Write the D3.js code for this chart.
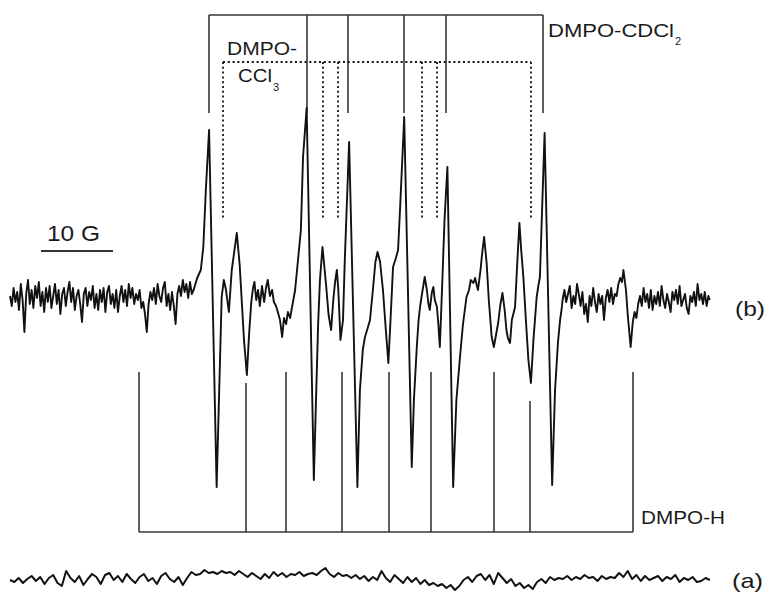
<!DOCTYPE html>
<html>
<head>
<meta charset="utf-8">
<script src="https://cdn.jsdelivr.net/npm/d3@7"></script>
<style>
  html, body { margin: 0; padding: 0; background: #fff; }
  svg { display: block; }
  text { font-family: "Liberation Sans", Arial, sans-serif; fill: #1a1a1a; }
</style>
</head>
<body>
<svg id="chart" width="767" height="595"></svg>
<script>
// EPR spectrum (b) with stick diagrams, and blank spectrum (a).
// Field in G (relative sweep), intensity in arbitrary units.

// Spectrum (b): [field G, intensity]
const spectrumB = [
  [0.00,2],[0.25,-8],[0.50,10],[0.75,-4],[1.00,6],[1.25,-12],[1.50,14],[1.75,-2],[2.00,-34],[2.25,4],
  [2.50,18],[2.75,-6],[3.00,8],[3.25,-10],[3.50,12],[3.75,0],[4.00,16],[4.25,-8],[4.50,6],[4.75,-14],
  [5.00,10],[5.25,-4],[5.50,12],[5.75,-10],[6.00,2],[6.25,14],[6.50,-6],[6.75,8],[7.00,-16],[7.25,4],
  [7.50,10],[7.75,-8],[8.00,6],[8.25,16],[8.50,-4],[8.75,10],[9.00,-12],[9.25,2],[9.50,8],[9.75,-6],
  [10.00,-24],[10.25,4],[10.50,10],[10.75,-8],[11.00,6],[11.25,-2],[11.50,12],[11.75,-10],[12.00,4],[12.25,-12],
  [12.50,8],[12.75,-4],[13.00,10],[13.25,-14],[13.50,6],[13.75,12],[14.00,-6],[14.25,4],[14.50,-10],[14.75,8],
  [15.00,-14],[15.25,2],[15.50,12],[15.75,-4],[16.00,8],[16.25,-8],[16.50,14],[16.75,0],[17.00,10],[17.25,-6],
  [17.50,4],[17.75,-2],[18.00,8],[18.25,-10],[18.50,-4],[18.75,-16],[19.00,-34],[19.25,-6],[19.50,6],[19.75,-2],
  [20.00,10],[20.25,-6],[20.50,14],[20.75,2],[21.00,-4],[21.25,10],[21.50,16],[21.75,-8],[22.00,4],[22.25,-12],
  [22.50,6],[22.75,-8],[23.00,-26],[23.25,4],[23.50,12],[23.75,2],[24.00,18],[24.25,6],[24.50,14],[24.75,0],
  [25.00,16],[25.25,4],[25.50,8],[25.75,14],[26.00,20],
  [26.5,28],[26.85,51],[27.2,108],[27.65,168],[28.7,-189],[29.4,1],[29.7,18],
  [30.0,8],[30.4,-14],[30.8,28],[31.5,65],[31.9,33],[32.5,-42],[32.9,-77],[33.2,-37],[33.5,-5],[33.75,10],
  [33.95,16],[34.2,-2],[34.45,8],[34.7,-8],[35.0,12],[35.3,-4],[35.55,10],[35.8,18],[36.1,2],[36.4,8],
  [36.65,-4],[36.95,-8],[37.2,-14],[37.5,-22],[37.8,-39],[38.05,-20],[38.35,-26],[38.6,-14],[38.9,-20],[39.2,-8],
  [39.6,8],[40.0,38],[40.4,68],[40.7,141],[41.2,190],[42.2,-182],[42.5,-102],[42.8,-25],[43.05,18],[43.4,51],
  [43.6,36],[43.9,13],[44.25,-17],[44.6,-32],[44.9,-2],[45.15,16],[45.4,28],[45.6,8],[45.9,-42],[46.25,-22],
  [46.5,38],[47.1,156],[48.25,-189],[48.6,-92],[49.0,-52],[49.3,-39],[49.6,-32],[50.0,-22],[50.4,8],[50.75,36],
  [51.05,46],[51.4,36],[51.8,8],[52.2,-32],[52.55,-65],[52.85,-22],[53.2,31],[53.6,40],[53.9,48],[54.2,93],
  [54.75,181],[55.8,-169],[56.1,-102],[56.5,-49],[56.75,-22],[56.95,-9],[57.2,3],[57.6,21],[57.9,8],[58.1,-5],
  [58.3,-12],[58.6,6],[58.8,11],[59.0,-2],[59.3,-9],[59.5,-27],[59.7,-49],[60.0,8],[60.35,78],[60.75,131],
  [61.55,-189],[62.0,-102],[62.5,-59],[62.9,-27],[63.4,1],[63.75,8],[64.0,18],[64.35,15],[64.6,20],[64.85,12],
  [65.0,8],[65.35,28],[65.55,43],[65.85,61],[66.2,35],[66.5,-2],[66.9,-39],[67.2,-49],[67.5,-37],[67.8,-25],
  [68.1,-7],[68.4,5],[68.7,-12],[68.95,-32],[69.15,-40],[69.45,-45],[69.7,-22],[70.15,-9],[70.4,28],[70.75,75],
  [71.0,48],[71.3,21],[71.65,-22],[72.0,-62],[72.35,-85],[72.7,-42],[73.15,1],[73.4,13],[73.6,21],[73.9,88],
  [74.25,165],[75.3,-187],[75.7,-92],[76.1,-45],[76.4,-22],[76.6,-12],
  [76.75,-2],[77.00,8],[77.25,-4],[77.50,4],[77.75,12],[78.00,-10],[78.25,2],[78.50,-6],[78.75,14],[79.00,4],
  [79.25,-8],[79.50,6],[79.75,-16],[80.00,-6],[80.25,-24],[80.50,2],[80.75,-8],[81.00,10],[81.25,-4],[81.50,-14],
  [81.75,4],[82.00,-6],[82.25,2],[82.50,-22],[82.75,0],[83.00,8],[83.25,-4],[83.50,10],[83.75,-6],[84.00,4],
  [84.25,2],[84.50,14],[84.75,20],[85.00,16],[85.20,28],[85.55,8],[85.8,-17],[86.2,-49],[86.5,-24],[86.75,-14],
  [87.00,-20],[87.25,-6],[87.50,2],[87.75,-8],[88.00,10],[88.25,-4],[88.50,4],[88.75,-10],[89.00,8],[89.25,-12],
  [89.50,2],[89.75,-6],[90.00,6],[90.25,-8],[90.50,12],[90.75,-2],[91.00,-10],[91.25,4],[91.50,-4],[91.75,-14],
  [92.00,6],[92.25,-2],[92.50,8],[92.75,-6],[93.00,12],[93.25,-8],[93.50,-2],[93.75,4],[94.00,-10],[94.25,-16],
  [94.50,2],[94.75,-4],[95.00,6],[95.25,-8],[95.50,14],[95.75,-2],[96.00,4],[96.25,-6],[96.50,6],[96.75,-8],
  [97.00,2],[97.20,-2]
];

// Spectrum (a): intensities on an evenly spaced field sweep
const sweepAStart = 0;     // G
const sweepAStep = 0.6;    // G per point
const spectrumA = [
  0,-2,2,-3,1,4,-1,3,-4,2,
  5,-3,-6,9,2,-2,4,-5,1,6,
  3,-4,5,7,0,4,-2,6,1,-3,
  3,6,-1,2,-4,4,7,1,-2,3,
  -5,2,8,5,6,10,7,8,6,9,
  7,8,5,9,6,3,7,4,1,6,
  2,8,4,7,3,6,5,8,4,6,
  7,5,9,12,6,3,7,4,5,2,
  5,1,4,-1,3,0,9,2,-2,5,
  1,-3,3,-2,2,-4,0,-5,-3,-6,
  -4,-8,-5,-10,-6,0,3,-2,4,6,
  0,5,-4,7,2,-3,1,-6,-3,-8,
  -5,-9,-2,1,-3,3,0,2,1,4,
  0,3,1,5,2,3,-1,4,1,3,
  2,7,3,9,1,5,-1,4,0,2,
  4,-1,3,1,5,-2,2,0,3,-2,
  -1,2,0
];

// Stick diagrams: line positions (G)
const linesCDCl2 = [27.64, 41.25, 46.94, 54.72, 60.56, 74.03];
const linesCCl3  = [29.58, 43.47, 45.56, 57.22, 59.31, 72.36];
const linesH     = [17.92, 32.78, 38.33, 46.11, 52.64, 58.47, 67.22, 72.22, 86.53];
// upper end of each DMPO-H stick (intensity units)
const linesHTop  = [-74, -85, -74, -74, -74, -74, -74, -103, -74];

// Scale bar
const scaleBarStart = 4.3;   // G
const scaleBarLength = 10;   // G

const svg = d3.select("#chart");
svg.append("rect").attr("width", 767).attr("height", 595).attr("fill", "#fff");

const x = d3.scaleLinear().domain([0, 100]).range([10, 730]);
const y = d3.scaleLinear().domain([-297, 298]).range([595, 0]);

// stick-diagram levels (intensity units)
const cdTop = 283, cdTip = 185;
const ccTop = 236, ccTip = 80;
const hBase = -234;
const offsetA = -282;

const stickColor = "#363636";

// DMPO-CDCl2 (solid)
const gCD = svg.append("g").attr("stroke", stickColor).attr("stroke-width", 1.6).attr("fill", "none");
gCD.append("line")
  .attr("x1", x(d3.min(linesCDCl2))).attr("x2", x(d3.max(linesCDCl2)))
  .attr("y1", y(cdTop)).attr("y2", y(cdTop));
gCD.selectAll("line.s").data(linesCDCl2).join("line").attr("class", "s")
  .attr("x1", d => x(d)).attr("x2", d => x(d))
  .attr("y1", y(cdTop)).attr("y2", y(cdTip));

// DMPO-CCl3 (dotted)
const gCC = svg.append("g").attr("stroke", "#111").attr("stroke-width", 1.8)
  .attr("stroke-dasharray", "2,2.8").attr("fill", "none");
gCC.append("line")
  .attr("x1", x(d3.min(linesCCl3))).attr("x2", x(d3.max(linesCCl3)))
  .attr("y1", y(ccTop)).attr("y2", y(ccTop));
gCC.selectAll("line.s").data(linesCCl3).join("line").attr("class", "s")
  .attr("x1", d => x(d)).attr("x2", d => x(d))
  .attr("y1", y(ccTop)).attr("y2", y(ccTip));

// DMPO-H (solid, below)
const gH = svg.append("g").attr("stroke", stickColor).attr("stroke-width", 1.6).attr("fill", "none");
gH.append("line")
  .attr("x1", x(d3.min(linesH))).attr("x2", x(d3.max(linesH)))
  .attr("y1", y(hBase)).attr("y2", y(hBase));
gH.selectAll("line.s").data(linesH).join("line").attr("class", "s")
  .attr("x1", d => x(d)).attr("x2", d => x(d))
  .attr("y1", (d, i) => y(linesHTop[i])).attr("y2", y(hBase));

// Spectra
const lineB = d3.line().x(d => x(d[0])).y(d => y(d[1]));
svg.append("path").datum(spectrumB)
  .attr("d", lineB).attr("fill", "none")
  .attr("stroke", "#111").attr("stroke-width", 1.9).attr("stroke-linejoin", "round");

const lineA = d3.line()
  .x((d, i) => x(sweepAStart + i * sweepAStep))
  .y(d => y(d + offsetA));
svg.append("path").datum(spectrumA)
  .attr("d", lineA).attr("fill", "none")
  .attr("stroke", "#111").attr("stroke-width", 2).attr("stroke-linejoin", "round");

// Scale bar
svg.append("line")
  .attr("x1", x(scaleBarStart)).attr("x2", x(scaleBarStart + scaleBarLength))
  .attr("y1", 251).attr("y2", 251)
  .attr("stroke", "#333").attr("stroke-width", 1.8);

// Labels
function label(txt, px, py, size, len) {
  const t = svg.append("text").attr("x", px).attr("y", py)
    .attr("font-size", size).text(txt);
  if (len) t.attr("textLength", len).attr("lengthAdjust", "spacingAndGlyphs");
  return t;
}
label("10 G", 47, 241, 22, 53);
label("DMPO-CDCl", 548, 37, 18, 126);
label("2", 675, 45, 11);
label("DMPO-", 227, 55, 18, 70);
label("CCl", 238, 82, 18, 34);
label("3", 273, 91, 11);
label("DMPO-H", 641, 524, 19, 84);
label("(b)", 735, 316, 21, 30);
label("(a)", 732, 588, 21, 31);
</script>
</body>
</html>
